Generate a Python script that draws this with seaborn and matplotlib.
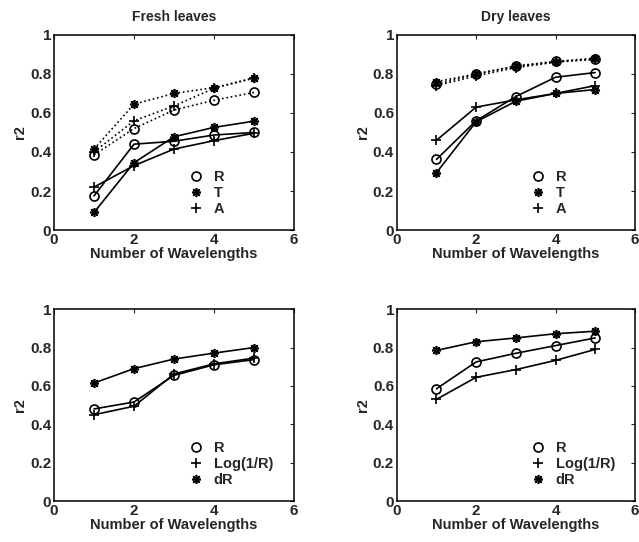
import matplotlib
matplotlib.use("Agg")
import matplotlib.pyplot as plt
from matplotlib.lines import Line2D
import seaborn as sns

# number of wavelengths (x axis)
wavelengths = [1, 2, 3, 4, 5]

# Fresh leaves, solid lines
fresh_R = [0.175, 0.44, 0.455, 0.487, 0.50]
fresh_T = [0.09, 0.345, 0.478, 0.526, 0.558]
fresh_A = [0.22, 0.33, 0.415, 0.458, 0.496]
# Fresh leaves, dotted lines
fresh_R_dot = [0.385, 0.52, 0.615, 0.665, 0.705]
fresh_T_dot = [0.415, 0.645, 0.70, 0.73, 0.778]
fresh_A_dot = [0.40, 0.56, 0.636, 0.726, 0.78]

# Dry leaves, solid lines
dry_R = [0.362, 0.56, 0.684, 0.783, 0.807]
dry_T = [0.294, 0.555, 0.66, 0.70, 0.72]
dry_A = [0.46, 0.63, 0.667, 0.70, 0.74]
# Dry leaves, dotted lines
dry_R_dot = [0.747, 0.80, 0.84, 0.865, 0.875]
dry_T_dot = [0.76, 0.80, 0.84, 0.862, 0.882]
dry_A_dot = [0.74, 0.79, 0.832, 0.86, 0.875]

# transforms, fresh leaves
fresh_tr_R = [0.48, 0.516, 0.655, 0.71, 0.737]
fresh_tr_log = [0.45, 0.494, 0.662, 0.715, 0.745]
fresh_tr_dR = [0.615, 0.69, 0.74, 0.771, 0.80]

# transforms, dry leaves
dry_tr_R = [0.585, 0.725, 0.77, 0.81, 0.85]
dry_tr_log = [0.53, 0.645, 0.685, 0.733, 0.79]
dry_tr_dR = [0.785, 0.83, 0.85, 0.872, 0.885]

x_ticks = [0, 2, 4, 6]
y_ticks = [0, 0.2, 0.4, 0.6, 0.8, 1]
y_tick_labels = ["0", "0.2", "0.4", "0.6", "0.8", "1"]

STAR = (8, 2, 0)
FONT = ["Liberation Sans", "DejaVu Sans"]


def draw_series(ax, values, marker, style="-"):
    sns.lineplot(x=wavelengths, y=values, ax=ax, color="k", lw=1.2,
                 linestyle=style, marker=marker, markersize=6.5,
                 markerfacecolor="none", markeredgecolor="k",
                 markeredgewidth=1.2)


def style_axes(ax, title=None):
    ax.set_xlim(0, 6)
    ax.set_ylim(0, 1)
    ax.set_xticks(x_ticks)
    ax.set_yticks(y_ticks)
    ax.set_yticklabels(y_tick_labels)
    ax.tick_params(direction="in", top=True, right=True, length=3,
                   labelsize=11, width=0.8, pad=2)
    for lab in ax.get_xticklabels() + ax.get_yticklabels():
        lab.set_fontweight("bold")
    for sp in ax.spines.values():
        sp.set_linewidth(1.1)
        sp.set_color("k")
    ax.set_xlabel("Number of Wavelengths", fontsize=10.5,
                  fontweight="bold", labelpad=0)
    ax.set_ylabel("r2", fontsize=10.5, fontweight="bold", labelpad=2)
    if title:
        ax.set_title(title, fontsize=10, fontweight="bold", pad=10)


def add_legend(ax, labels, markers):
    handles = [Line2D([], [], color="k", linestyle="none", marker=m,
                      markerfacecolor="none", markersize=6.5,
                      markeredgewidth=1.2) for m in markers]
    leg = ax.legend(handles, labels, loc="lower left",
                    bbox_to_anchor=(0.52, 0.02), frameon=False,
                    fontsize=10.5, handlelength=1.0, handletextpad=0.7,
                    labelspacing=0.12, borderpad=0.2)
    for t in leg.get_texts():
        t.set_fontweight("bold")


def main():
    sns.set_style("white")
    plt.rcParams["font.family"] = FONT

    fig = plt.figure(figsize=(6.39, 5.42), dpi=100)
    ax1 = fig.add_axes([0.0845, 0.5756, 0.3756, 0.36])
    ax2 = fig.add_axes([0.621, 0.5756, 0.3725, 0.36])
    ax3 = fig.add_axes([0.0845, 0.0756, 0.3756, 0.354])
    ax4 = fig.add_axes([0.621, 0.0756, 0.3725, 0.354])

    # Fresh leaves
    draw_series(ax1, fresh_R_dot, "o", ":")
    draw_series(ax1, fresh_T_dot, STAR, ":")
    draw_series(ax1, fresh_A_dot, "+", ":")
    draw_series(ax1, fresh_R, "o")
    draw_series(ax1, fresh_T, STAR)
    draw_series(ax1, fresh_A, "+")
    style_axes(ax1, "Fresh leaves")
    add_legend(ax1, ["R", "T", "A"], ["o", STAR, "+"])

    # Dry leaves
    draw_series(ax2, dry_R_dot, "o", ":")
    draw_series(ax2, dry_T_dot, STAR, ":")
    draw_series(ax2, dry_A_dot, "+", ":")
    draw_series(ax2, dry_R, "o")
    draw_series(ax2, dry_T, STAR)
    draw_series(ax2, dry_A, "+")
    style_axes(ax2, "Dry leaves")
    add_legend(ax2, ["R", "T", "A"], ["o", STAR, "+"])

    # transforms
    for ax, r, lg, dr in [(ax3, fresh_tr_R, fresh_tr_log, fresh_tr_dR),
                          (ax4, dry_tr_R, dry_tr_log, dry_tr_dR)]:
        draw_series(ax, r, "o")
        draw_series(ax, lg, "+")
        draw_series(ax, dr, STAR)
        style_axes(ax)
        add_legend(ax, ["R", "Log(1/R)", "dR"], ["o", "+", STAR])

    fig.savefig("out.png", dpi=100)


if __name__ == "__main__":
    main()
